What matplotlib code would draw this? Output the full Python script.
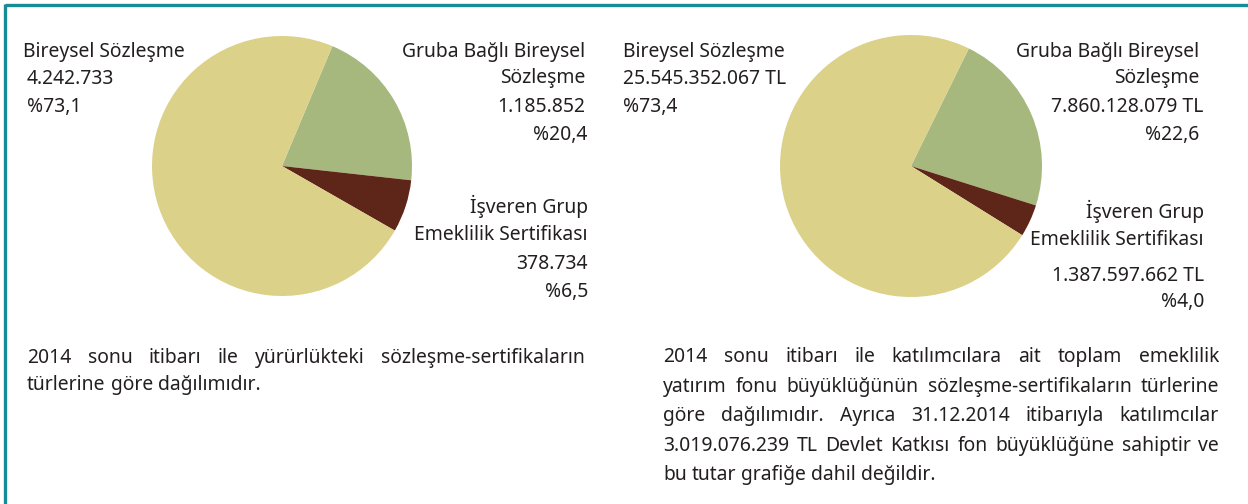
import matplotlib
matplotlib.use("Agg")
import matplotlib.pyplot as plt

# ---------------- data ----------------
categories = ["Bireysel Sözleşme", "Gruba Bağlı Bireysel Sözleşme", "İşveren Grup Emeklilik Sertifikası"]
contracts = [4242733, 1185852, 378734]                       # left pie (adet)
fund_size_tl = [25545352067, 7860128079, 1387597662]         # right pie (TL)
colors = ["#DCD189", "#A6B87D", "#5E2619"]

para_left_lines = [
    "2014 sonu itibarı ile yürürlükteki sözleşme-sertifikaların",
    "türlerine göre dağılımıdır.",
]
para_right_lines = [
    "2014 sonu itibarı ile katılımcılara ait toplam emeklilik",
    "yatırım fonu büyüklüğünün sözleşme-sertifikaların türlerine",
    "göre dağılımıdır. Ayrıca 31.12.2014 itibarıyla katılımcılar",
    "3.019.076.239 TL Devlet Katkısı fon büyüklüğüne sahiptir ve",
    "bu tutar grafiğe dahil değildir.",
]

W, H = 1248, 504
TEXT = "#231F20"
FAMILY = ["Noto Sans", "DejaVu Sans"]

fig = plt.figure(figsize=(W / 100, H / 100), dpi=100)
fig.patch.set_facecolor("white")
renderer = fig.canvas.get_renderer()


def fx(x):
    return x / W


def fy(y):
    return 1 - y / H


def text_width(s, size):
    t = fig.text(0, 0, s, fontsize=size, family=FAMILY)
    w = t.get_window_extent(renderer=renderer).width
    t.remove()
    return w


# fit the font size so that "Bireysel Sözleşme" is ~162 px wide
fs = 12.0
for _ in range(4):
    fs *= 162.0 / text_width("Bireysel Sözleşme", fs)


def fmt_int(v):
    return f"{v:,}".replace(",", ".")


def fmt_pct(v, tot):
    return "%" + f"{100 * v / tot:.1f}".replace(".", ",")


def put(x, y, s, ha="left"):
    fig.text(fx(x), fy(y), s, ha=ha, va="baseline", fontsize=fs,
             family=FAMILY, color=TEXT)


def pie(cx, cy, r, vals, start):
    ax = fig.add_axes([fx(cx - r), fy(cy + r), 2 * r / W, 2 * r / H])
    order = [1, 2, 0]
    ax.pie([vals[i] for i in order], colors=[colors[i] for i in order],
           startangle=start, counterclock=False, radius=1,
           wedgeprops=dict(linewidth=0))
    ax.set_xlim(-1, 1)
    ax.set_ylim(-1, 1)
    ax.set_aspect("auto")
    ax.axis("off")


pie(282, 166, 130, contracts, 67.2)
pie(911, 166, 131, fund_size_tl, 63.8)

# ---- left pie labels ----
tot = sum(contracts)
put(23, 57, categories[0])
put(27, 84, fmt_int(contracts[0]))
put(27, 112, fmt_pct(contracts[0], tot))
put(585, 57, "Gruba Bağlı Bireysel", "right")
put(585, 83, "Sözleşme", "right")
put(585, 112, fmt_int(contracts[1]), "right")
put(587, 140, fmt_pct(contracts[1], tot), "right")
put(588, 213, "İşveren Grup", "right")
put(588, 240, "Emeklilik Sertifikası", "right")
put(588, 269, fmt_int(contracts[2]), "right")
put(588, 297, fmt_pct(contracts[2], tot), "right")

# ---- right pie labels ----
tot = sum(fund_size_tl)
put(623, 57, categories[0])
put(623, 84, fmt_int(fund_size_tl[0]) + " TL")
put(623, 112, fmt_pct(fund_size_tl[0], tot))
put(1199, 57, "Gruba Bağlı Bireysel", "right")
put(1199, 83, "Sözleşme", "right")
put(1203, 112, fmt_int(fund_size_tl[1]) + " TL", "right")
put(1199, 140, fmt_pct(fund_size_tl[1], tot), "right")
put(1204, 218, "İşveren Grup", "right")
put(1204, 245, "Emeklilik Sertifikası", "right")
put(1204, 281, fmt_int(fund_size_tl[2]) + " TL", "right")
put(1204, 307, fmt_pct(fund_size_tl[2], tot), "right")


# ---- justified paragraphs ----
def paragraph(lines, x0, x1, y0, dy):
    space = text_width("a b", fs) - text_width("ab", fs)
    for i, line in enumerate(lines):
        ln = line.split()
        y = y0 + i * dy
        widths = [text_width(t, fs) for t in ln]
        last = i == len(lines) - 1
        if last or len(ln) == 1:
            gap = space
        else:
            gap = (x1 - x0 - sum(widths)) / (len(ln) - 1)
        x = x0
        for t, w in zip(ln, widths):
            put(x, y, t)
            x += w + gap


paragraph(para_left_lines, 27, 585, 363, 27)
paragraph(para_right_lines, 663, 1219, 362, 29.6)

# ---- frame ----
border = "#178C96"
fig.add_artist(plt.Line2D([fx(5), 1], [fy(5), fy(5)], color=border, lw=2.4,
                          transform=fig.transFigure, solid_capstyle="butt"))
fig.add_artist(plt.Line2D([fx(5), fx(5)], [fy(4), 0], color=border, lw=2.4,
                          transform=fig.transFigure, solid_capstyle="butt"))

fig.savefig("out.png", dpi=100, facecolor="white")
